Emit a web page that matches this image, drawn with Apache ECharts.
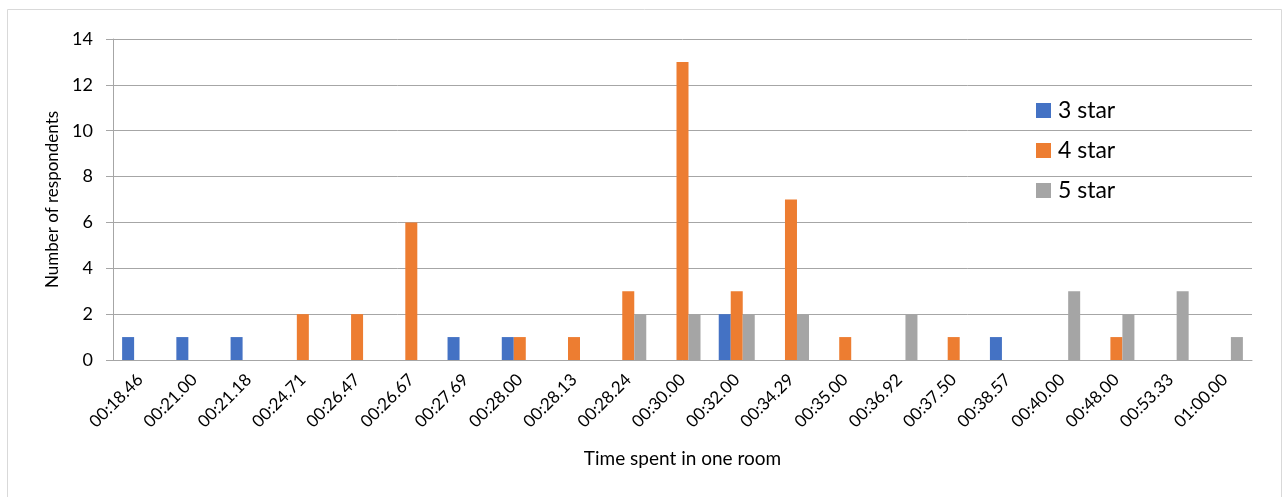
<!DOCTYPE html>
<html>
<head>
<meta charset="utf-8">
<script src="https://cdn.jsdelivr.net/npm/echarts@6/dist/echarts.min.js"></script>
<style>html,body{margin:0;padding:0;background:#fff}#c{width:1284px;height:497px}</style>
</head>
<body>
<div id="c"></div>
<script>
const categories = ['00:18.46','00:21.00','00:21.18','00:24.71','00:26.47','00:26.67','00:27.69','00:28.00','00:28.13','00:28.24','00:30.00','00:32.00','00:34.29','00:35.00','00:36.92','00:37.50','00:38.57','00:40.00','00:48.00','00:53.33','01:00.00'];
const star3 = [1,1,1,0,0,0,1,1,0,0,0,2,0,0,0,0,1,0,0,0,0];
const star4 = [0,0,0,2,2,6,0,1,1,3,13,3,7,1,0,1,0,0,1,0,0];
const star5 = [0,0,0,0,0,0,0,0,0,2,2,2,2,0,2,0,0,3,2,3,1];
const seriesNames = ['3 star','4 star','5 star'];
const colors = ['#4472C4','#ED7D31','#A5A5A5'];
const font = 'Lato, "Liberation Sans", sans-serif';
const chart = echarts.init(document.getElementById('c'));
chart.setOption({
  animation: false,
  textStyle: {fontFamily: font, color: '#000'},
  graphic: [{type:'rect', shape:{x:7.5,y:9.5,width:1274,height:500}, style:{fill:'none', stroke:'#d9d9d9', lineWidth:1}, silent:true}],
  grid: {left:113, right:32, top:39, bottom:137},
  legend: {
    orient:'vertical', left:1031, top:94, itemWidth:15, itemHeight:15, itemGap:17,
    icon:'rect', textStyle:{fontSize:23, fontFamily:font, color:'#000', padding:[0,0,0,2]},
    data: seriesNames
  },
  xAxis: {
    type:'category', data:categories,
    name:'Time spent in one room', nameLocation:'middle', nameGap:89,
    nameTextStyle:{fontSize:19, color:'#000', fontFamily:font},
    axisLine:{lineStyle:{color:'#a6a6a6'}},
    axisTick:{length:6, lineStyle:{color:'#a6a6a6'}},
    axisLabel:{rotate:45, fontSize:17, color:'#000', margin:17, interval:0, fontFamily:font}
  },
  yAxis: {
    type:'value', min:0, max:14, interval:2,
    name:'Number of respondents', nameLocation:'middle', nameGap:50,
    nameTextStyle:{fontSize:17, color:'#000', fontFamily:font},
    axisLine:{show:true, lineStyle:{color:'#a6a6a6'}},
    axisTick:{show:true, length:7, lineStyle:{color:'#a6a6a6'}},
    splitLine:{lineStyle:{color:'#a6a6a6'}},
    axisLabel:{fontSize:18, color:'#000', margin:20, fontFamily:font}
  },
  series: [
    {name:seriesNames[0], type:'bar', data:star3, itemStyle:{color:colors[0]}, barGap:'0%', barCategoryGap:'33.6%'},
    {name:seriesNames[1], type:'bar', data:star4, itemStyle:{color:colors[1]}, barGap:'0%', barCategoryGap:'33.6%'},
    {name:seriesNames[2], type:'bar', data:star5, itemStyle:{color:colors[2]}, barGap:'0%', barCategoryGap:'33.6%'}
  ]
});
</script>
</body>
</html>
